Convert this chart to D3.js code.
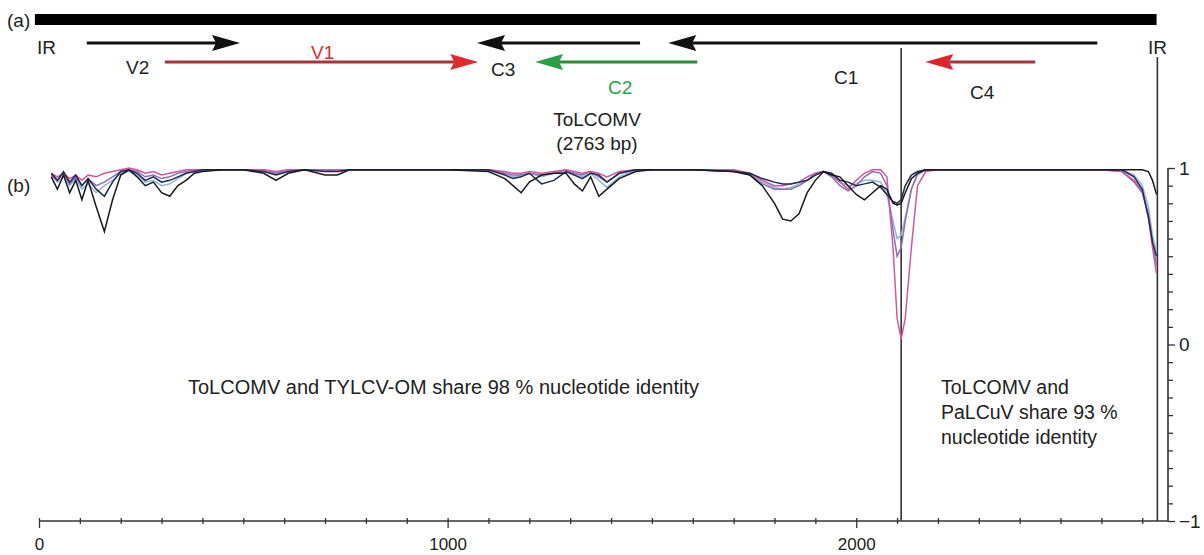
<!DOCTYPE html>
<html>
  <head>
    <meta charset="utf-8">
    <script src="https://d3js.org/d3.v7.min.js"></script>
    <title>ToLCOMV similarity plot</title>
    <style>
      body { margin: 0px; background: #fff; }
      text { font-family: 'Liberation Sans', Arial, sans-serif; fill: #222; }
      .domain { stroke: #333; stroke-width: 1.6; }
      .tick line { stroke: #333; stroke-width: 1.3; }
    </style>
  </head>
  <body>
    <svg width="1204" height="555"></svg>
    <script>
      // genome position (nt) of each sampled window
      const positions = [30, 45, 60, 75, 90, 105, 120, 140, 160, 180, 200, 220, 240, 260, 280, 300, 320, 340, 360, 380,
        400, 450, 500, 550, 580, 610, 650, 700, 730, 760, 800, 900, 1000, 1100, 1140, 1160, 1180, 1200, 1230, 1260,
        1290, 1310, 1330, 1350, 1370, 1390, 1420, 1460, 1500, 1600, 1700, 1740, 1770, 1800, 1820, 1840, 1860, 1880, 1900, 1920,
        1940, 1960, 1980, 2000, 2020, 2040, 2060, 2075, 2090, 2100, 2110, 2120, 2135, 2150, 2170, 2200, 2300, 2400, 2500, 2600,
        2650, 2680, 2700, 2715, 2725, 2735];

      const blackA = [0.95, 0.88, 0.96, 0.86, 0.93, 0.82, 0.93, 0.78, 0.64, 0.82, 0.96, 0.99, 0.95, 0.90, 0.92, 0.86, 0.84, 0.90, 0.93, 0.97,
        0.98, 0.99, 0.99, 0.97, 0.93, 0.97, 0.99, 0.96, 0.96, 0.99, 0.99, 0.99, 0.99, 0.98, 0.94, 0.90, 0.86, 0.92, 0.96, 0.97,
        0.97, 0.91, 0.87, 0.95, 0.84, 0.88, 0.94, 0.98, 0.99, 0.99, 0.98, 0.96, 0.90, 0.80, 0.71, 0.70, 0.74, 0.86, 0.93, 0.98,
        0.96, 0.95, 0.90, 0.85, 0.82, 0.86, 0.90, 0.88, 0.80, 0.79, 0.80, 0.86, 0.94, 0.97, 0.99, 0.99, 0.99, 0.99, 0.99, 0.99,
        0.99, 0.99, 0.99, 0.98, 0.93, 0.85];
      const blackB = [0.97, 0.93, 0.98, 0.92, 0.96, 0.90, 0.94, 0.88, 0.84, 0.92, 0.98, 0.99, 0.97, 0.93, 0.95, 0.92, 0.93, 0.95, 0.97, 0.98,
        0.99, 0.99, 0.99, 0.98, 0.96, 0.98, 0.99, 0.98, 0.98, 0.99, 0.99, 0.99, 0.99, 0.99, 0.96, 0.94, 0.95, 0.97, 0.91, 0.93,
        0.98, 0.96, 0.94, 0.97, 0.96, 0.92, 0.97, 0.99, 0.99, 0.99, 0.98, 0.97, 0.94, 0.92, 0.91, 0.91, 0.92, 0.93, 0.96, 0.98,
        0.97, 0.93, 0.92, 0.90, 0.91, 0.92, 0.89, 0.85, 0.81, 0.80, 0.82, 0.90, 0.96, 0.98, 0.99, 0.99, 0.99, 0.99, 0.99, 0.99,
        0.99, 0.95, 0.88, 0.72, 0.58, 0.50];
      const lightBlue = [0.96, 0.92, 0.95, 0.90, 0.94, 0.88, 0.91, 0.86, 0.90, 0.93, 0.97, 0.98, 0.96, 0.92, 0.93, 0.90, 0.91, 0.94, 0.97, 0.98,
        0.99, 0.99, 0.99, 0.98, 0.97, 0.98, 0.99, 0.99, 0.99, 0.99, 0.99, 0.99, 0.99, 0.99, 0.97, 0.95, 0.96, 0.97, 0.95, 0.97,
        0.98, 0.97, 0.95, 0.97, 0.93, 0.89, 0.95, 0.99, 0.99, 0.99, 0.98, 0.96, 0.92, 0.89, 0.88, 0.89, 0.91, 0.93, 0.96, 0.98,
        0.96, 0.92, 0.90, 0.91, 0.93, 0.93, 0.92, 0.85, 0.70, 0.60, 0.62, 0.72, 0.88, 0.96, 0.99, 0.99, 0.99, 0.99, 0.99, 0.99,
        0.99, 0.96, 0.90, 0.78, 0.62, 0.52];
      const pink = [0.97, 0.95, 0.97, 0.94, 0.96, 0.93, 0.96, 0.95, 0.97, 0.98, 0.99, 1.00, 0.99, 0.97, 0.98, 0.96, 0.97, 0.98, 0.99, 0.99,
        0.99, 0.99, 0.99, 0.99, 0.98, 0.99, 0.99, 0.99, 0.99, 0.99, 0.99, 0.99, 0.99, 0.99, 0.98, 0.97, 0.97, 0.98, 0.97, 0.98,
        0.99, 0.98, 0.97, 0.98, 0.97, 0.95, 0.98, 0.99, 0.99, 0.99, 0.99, 0.97, 0.93, 0.90, 0.90, 0.91, 0.92, 0.95, 0.97, 0.98,
        0.96, 0.92, 0.88, 0.93, 0.97, 0.99, 0.99, 0.95, 0.55, 0.15, 0.03, 0.15, 0.55, 0.90, 0.98, 0.99, 0.99, 0.99, 0.99, 0.99,
        0.98, 0.93, 0.87, 0.72, 0.55, 0.40];
      const purple = [0.96, 0.93, 0.97, 0.91, 0.95, 0.90, 0.94, 0.90, 0.92, 0.95, 0.98, 0.99, 0.98, 0.95, 0.96, 0.94, 0.95, 0.97, 0.98, 0.99,
        0.99, 0.99, 0.99, 0.99, 0.97, 0.99, 0.99, 0.99, 0.98, 0.99, 0.99, 0.99, 0.99, 0.99, 0.97, 0.96, 0.96, 0.97, 0.96, 0.97,
        0.99, 0.97, 0.96, 0.98, 0.95, 0.92, 0.97, 0.99, 0.99, 0.99, 0.99, 0.96, 0.91, 0.88, 0.88, 0.88, 0.90, 0.93, 0.97, 0.98,
        0.95, 0.90, 0.87, 0.90, 0.95, 0.98, 0.97, 0.90, 0.65, 0.50, 0.55, 0.70, 0.88, 0.97, 0.99, 0.99, 0.99, 0.99, 0.99, 0.99,
        0.98, 0.92, 0.86, 0.74, 0.58, 0.45];

      // genes: name, start, end (tip), row
      const geneNames = ['V2', 'V1', 'C3', 'C2', 'C1', 'C4'];
      const geneStart = [117, 308, 1471, 1611, 2590, 2438];
      const geneEnd = [492, 1075, 1072, 1214, 1540, 2169];
      const geneRow = [0, 1, 0, 1, 0, 1];
      const breakpoints = [2110, 2737];
      const genomeLength = 2763;
      const xTickValues = d3.range(0, 2800, 100);
      const xTickLabels = [0, 1000, 2000];
      const yTickValues = d3.range(-10, 11).map(d => d / 10);
      const yTickLabels = [-1, 0, 1];

      const series = [
        { values: lightBlue, color: '#8fb6d9' },
        { values: purple, color: '#8c6fb8' },
        { values: pink, color: '#d3579c' },
        { values: blackB, color: '#1f2b4d' },
        { values: blackA, color: '#1a1a1a' }
      ];
      const geneColor = { V2: '#111', V1: '#a8323a', C3: '#111', C2: '#2f8a3e', C1: '#111', C4: '#a8323a' };
      const headColor = { V2: '#111', V1: '#e02a2f', C3: '#111', C2: '#27a045', C1: '#111', C4: '#d9272d' };

      const svg = d3.select('svg');
      const x = d3.scaleLinear().domain([0, genomeLength]).range([39, 1168]);
      const y = d3.scaleLinear().domain([-1, 1]).range([521, 168]);

      // (a) genome map
      svg.append('rect')
          .attr('x', x(-10)).attr('y', 14)
          .attr('width', x(2735) - x(-10)).attr('height', 11)
          .attr('fill', '#000');

      const rowY = [43, 62];
      const genes = geneNames.map((name, i) => ({ name, start: geneStart[i], end: geneEnd[i], row: geneRow[i] }));
      const geneG = svg.append('g');
      genes.forEach(g => {
        const dir = g.end > g.start ? 1 : -1;
        const yy = rowY[g.row];
        const tip = x(g.end);
        const base = tip - dir * 24;
        geneG.append('line')
            .attr('x1', x(g.start)).attr('x2', base)
            .attr('y1', yy).attr('y2', yy)
            .attr('stroke', geneColor[g.name]).attr('stroke-width', 3);
        geneG.append('path')
            .attr('d', `M${tip},${yy} L${base - dir * 4},${yy - 8} L${base},${yy} L${base - dir * 4},${yy + 8} Z`)
            .attr('fill', headColor[g.name]);
      });

      const labels = [
        { t: '(a)', x: 7, y: 27 }, { t: 'IR', x: 37, y: 54 }, { t: 'V2', x: 126, y: 74 },
        { t: 'V1', x: 311, y: 59, c: '#e8262d' }, { t: 'C3', x: 491, y: 76 },
        { t: 'C2', x: 608, y: 94, c: '#1da64a' }, { t: 'C1', x: 834, y: 84 },
        { t: 'C4', x: 970, y: 99 }, { t: 'IR', x: 1148, y: 54 }, { t: '(b)', x: 7, y: 192 }
      ];
      svg.append('g').selectAll('text').data(labels).enter().append('text')
          .attr('x', d => d.x).attr('y', d => d.y)
          .attr('font-size', 19)
          .style('fill', d => d.c || '#222')
          .text(d => d.t);

      svg.append('text').attr('x', 597).attr('y', 126).attr('text-anchor', 'middle')
          .attr('font-size', 19).text('ToLCOMV');
      svg.append('text').attr('x', 597).attr('y', 150).attr('text-anchor', 'middle')
          .attr('font-size', 19).text('(2763 bp)');

      // breakpoint lines
      svg.append('g').selectAll('line').data(breakpoints).enter().append('line')
          .attr('x1', d => x(d)).attr('x2', d => x(d))
          .attr('y1', (d, i) => i === 0 ? 48 : 57).attr('y2', y(-1))
          .attr('stroke', '#333').attr('stroke-width', 1.6);

      // axes
      const xAxisG = svg.append('g')
          .attr('transform', `translate(0,${y(-1)})`)
          .call(d3.axisBottom(x).tickValues(xTickValues).tickSize(3)
            .tickFormat(d => xTickLabels.includes(d) ? d : ''));
      xAxisG.selectAll('.tick line')
          .attr('y1', -3)
          .attr('y2', d => xTickLabels.includes(d) ? 7 : 3);
      xAxisG.selectAll('.tick text')
          .attr('dy', 0).attr('y', 29)
          .attr('font-size', 17)
          .style('font-family', "'Liberation Sans Narrow', 'Liberation Sans', Arial, sans-serif");
      xAxisG.select('.domain').attr('d', `M${x(0)},0H${x(genomeLength)}`);

      const yAxisG = svg.append('g')
          .attr('transform', `translate(${x(genomeLength)},0)`)
          .call(d3.axisRight(y).tickValues(yTickValues).tickSize(5)
            .tickFormat(d => yTickLabels.includes(d) ? d3.format('d')(d) : ''));
      yAxisG.select('.domain').attr('d', `M0,${y(1)}V${y(-1)}`);
      yAxisG.selectAll('.tick line').attr('x2', d => yTickLabels.includes(d) ? 7 : 5);
      yAxisG.selectAll('.tick text').attr('x', 11).attr('font-size', 19);

      // (b) similarity curves
      const line = d3.line()
        .x((d, i) => x(positions[i]))
        .y(d => y(d))
        .curve(d3.curveLinear);
      svg.append('g').selectAll('path').data(series).enter().append('path')
          .attr('d', d => line(d.values))
          .attr('fill', 'none')
          .attr('stroke', d => d.color)
          .attr('stroke-width', 1.5);

      svg.append('text').attr('x', 188).attr('y', 394).attr('font-size', 20)
          .text('ToLCOMV and TYLCV-OM share 98 % nucleotide identity');
      const rightNote = ['ToLCOMV and', 'PaLCuV share 93 %', 'nucleotide identity'];
      svg.append('g').selectAll('text').data(rightNote).enter().append('text')
          .attr('x', 941).attr('y', (d, i) => 394 + i * 25)
          .attr('font-size', 19.5)
          .text(d => d);
    </script>
  </body>
</html>
